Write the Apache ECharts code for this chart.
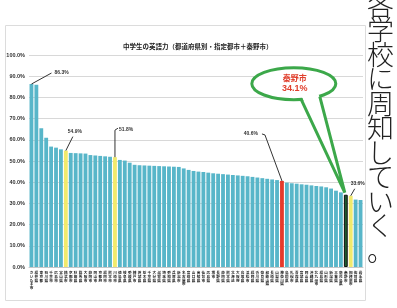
<!DOCTYPE html>
<html>
<head>
<meta charset="UTF-8">
<title>中学生の英語力</title>
<style>
html, body { margin: 0; padding: 0; background: #fff; }
#main { width: 397px; height: 308px; }
</style>
</head>
<body>
<div id="main"></div>
<script src="https://cdn.jsdelivr.net/npm/echarts@6/dist/echarts.min.js"></script>
<script>
// 中学生の英語力（都道府県別・指定都市＋秦野市）
var titleText = '中学生の英語力（都道府県別・指定都市＋秦野市）';
var sideText = '各学校に周知していく。';

var cats = ['さいたま市','福井県','東京都','石川県','千葉市','広島市','富山県','横浜市','京都市','秋田県',
  '群馬県','大阪市','静岡市','岡山市','京都府','福岡市','熊本市','川崎市','徳島県','岐阜県',
  '愛媛県','神戸市','茨城県','栃木県','千葉県','大分県','滋賀県','埼玉県','愛知県','兵庫県',
  '新潟市','名古屋市','宮崎県','山口県','高知県','仙台市','広島県','堺市','長野県','静岡県',
  '熊本県','北海道','大阪府','鳥取県','浜松市','福岡県','香川県','奈良県','和歌山県','長崎県',
  '山梨県','神奈川県','島根県','札幌市','青森県','宮城県','岡山県','沖縄県','北九州市','福島県',
  '山形県','新潟県','三重県','鹿児島県','秦野市','相模原市','佐賀県','岩手県'];

var vals = [86.3, 86.0, 65.5, 61.0, 56.8, 56.3, 55.5, 54.9, 53.8, 53.7,
  53.6, 53.5, 52.8, 52.6, 52.4, 52.2, 52.0, 51.8, 50.5, 50.2,
  49.2, 48.2, 48.0, 47.9, 47.8, 47.7, 47.6, 47.5, 47.4, 47.3,
  47.2, 46.5, 45.8, 45.3, 45.0, 44.8, 44.5, 44.2, 44.0, 43.8,
  43.6, 43.4, 43.2, 43.0, 42.8, 42.5, 42.2, 41.9, 41.6, 41.3,
  41.0, 40.6, 39.8, 39.5, 39.3, 39.0, 38.8, 38.5, 38.2, 38.0,
  37.6, 37.0, 36.0, 35.2, 34.1, 33.6, 31.8, 31.6];

var yellowIdx = [7, 17, 65];
var redIdx = [51];
var hadanoIdx = 64;

// 吹き出し以外の注記
var noteIdx = [0, 7, 17, 51, 65];
var noteText = ['86.3%', '54.9%', '51.8%', '40.6%', '33.6%'];
var bubbleText = ['秦野市', '34.1%'];

var myChart = echarts.init(document.getElementById('main'));

var barData = vals.map(function (v, i) {
  var c = '#58b6c9', b = null;
  if (yellowIdx.indexOf(i) >= 0) c = '#f1ea6c';
  if (redIdx.indexOf(i) >= 0) c = '#e53a2b';
  if (i === hadanoIdx) { c = '#1f5a2e'; b = '#111'; }
  return { value: v, itemStyle: { color: c, borderColor: b, borderWidth: b ? 1 : 0 } };
});

var option = {
  animation: false,
  title: {
    text: titleText,
    left: 118,
    top: 38,
    textStyle: { fontSize: 6.5, fontWeight: 'bold', color: '#222', fontFamily: 'Noto Sans CJK JP' }
  },
  grid: { left: 29, right: 34, top: 55, bottom: 41 },
  xAxis: {
    type: 'category',
    data: cats,
    axisTick: { show: false },
    axisLine: { lineStyle: { color: '#c8c8c8' } },
    axisLabel: {
      interval: 0,
      fontSize: 3.6,
      lineHeight: 3.7,
      margin: 4,
      color: '#222',
      fontWeight: 'bold',
      fontFamily: 'Noto Sans CJK JP',
      formatter: function (v) { return v.split('').join('\n'); }
    }
  },
  yAxis: {
    type: 'value',
    min: 0,
    max: 100,
    interval: 10,
    axisLine: { show: false },
    axisTick: { show: false },
    axisLabel: {
      fontSize: 5.5,
      fontWeight: 'bold',
      color: '#333',
      margin: 4,
      formatter: function (v) { return v.toFixed(1) + '%'; }
    },
    splitLine: { lineStyle: { color: '#d8d8d8' } }
  },
  series: [{
    type: 'bar',
    data: barData,
    barCategoryGap: '22%'
  }]
};
myChart.setOption(option);

// 注記の位置（棒の上端からのずれ）
var noteOffsets = [
  { line: [[0, 0], [20, -11]], text: [23, -11], align: 'left' },
  { line: [[0, 0], [7, -14]], text: [9, -19], align: 'center' },
  { line: [[0, 0], [0, -27], [3, -29]], text: [4, -28], align: 'left' },
  { line: [[0, 0], [-17, -46], [-20, -47]], text: [-24, -47], align: 'right' },
  { line: [[0, 0], [4, -7]], text: [7, -12], align: 'center' }
];

var g = [];
g.push({ type: 'rect', shape: { x: 5.5, y: 25.5, width: 360, height: 275 },
  style: { fill: null, stroke: '#dcdcdc', lineWidth: 1 }, z: 1 });

noteIdx.forEach(function (idx, k) {
  var p = myChart.convertToPixel({ gridIndex: 0 }, [idx, vals[idx]]);
  var o = noteOffsets[k];
  g.push({ type: 'polyline', shape: { points: o.line.map(function (q) { return [p[0] + q[0], p[1] + q[1]]; }) },
    style: { stroke: '#333', lineWidth: 1, fill: null }, z: 10 });
  g.push({ type: 'text', x: p[0] + o.text[0], y: p[1] + o.text[1],
    style: { text: noteText[k], fill: '#333', font: 'bold 5px sans-serif', align: o.align, verticalAlign: 'middle' }, z: 10 });
});

// 吹き出し
var h = myChart.convertToPixel({ gridIndex: 0 }, [hadanoIdx, vals[hadanoIdx]]);
var cx = h[0] - 52, cy = h[1] - 111;
g.push({ type: 'ellipse', shape: { cx: cx, cy: cy, rx: 42, ry: 16 },
  style: { fill: '#fff', stroke: '#3ca84a', lineWidth: 3 }, z: 11 });
g.push({ type: 'polygon', shape: { points: [[h[0] - 44, h[1] - 98], [h[0] - 1, h[1] - 3], [h[0] - 27, h[1] - 100]] },
  style: { fill: '#fff', stroke: null }, z: 12 });
g.push({ type: 'polyline', shape: { points: [[h[0] - 45, h[1] - 96], [h[0] - 1, h[1] - 2], [h[0] - 26, h[1] - 98]] },
  style: { stroke: '#3ca84a', lineWidth: 3, fill: null }, z: 13 });
g.push({ type: 'text', x: cx + 1, y: cy - 6,
  style: { text: bubbleText[0], fill: '#e0402e', font: 'bold 8px "Noto Sans CJK JP"', align: 'center', verticalAlign: 'middle' }, z: 14 });
g.push({ type: 'text', x: cx + 1, y: cy + 5,
  style: { text: bubbleText[1], fill: '#e0402e', font: 'bold 9px sans-serif', align: 'center', verticalAlign: 'middle' }, z: 14 });

// 右側の縦書き本文
g.push({ type: 'text', x: 367, y: -7,
  style: { text: sideText.split('').join('\n'), fill: '#222', font: '300 27px "Noto Sans CJK JP"', lineHeight: 24.5 }, z: 5 });

myChart.setOption({ graphic: g });
</script>
</body>
</html>
